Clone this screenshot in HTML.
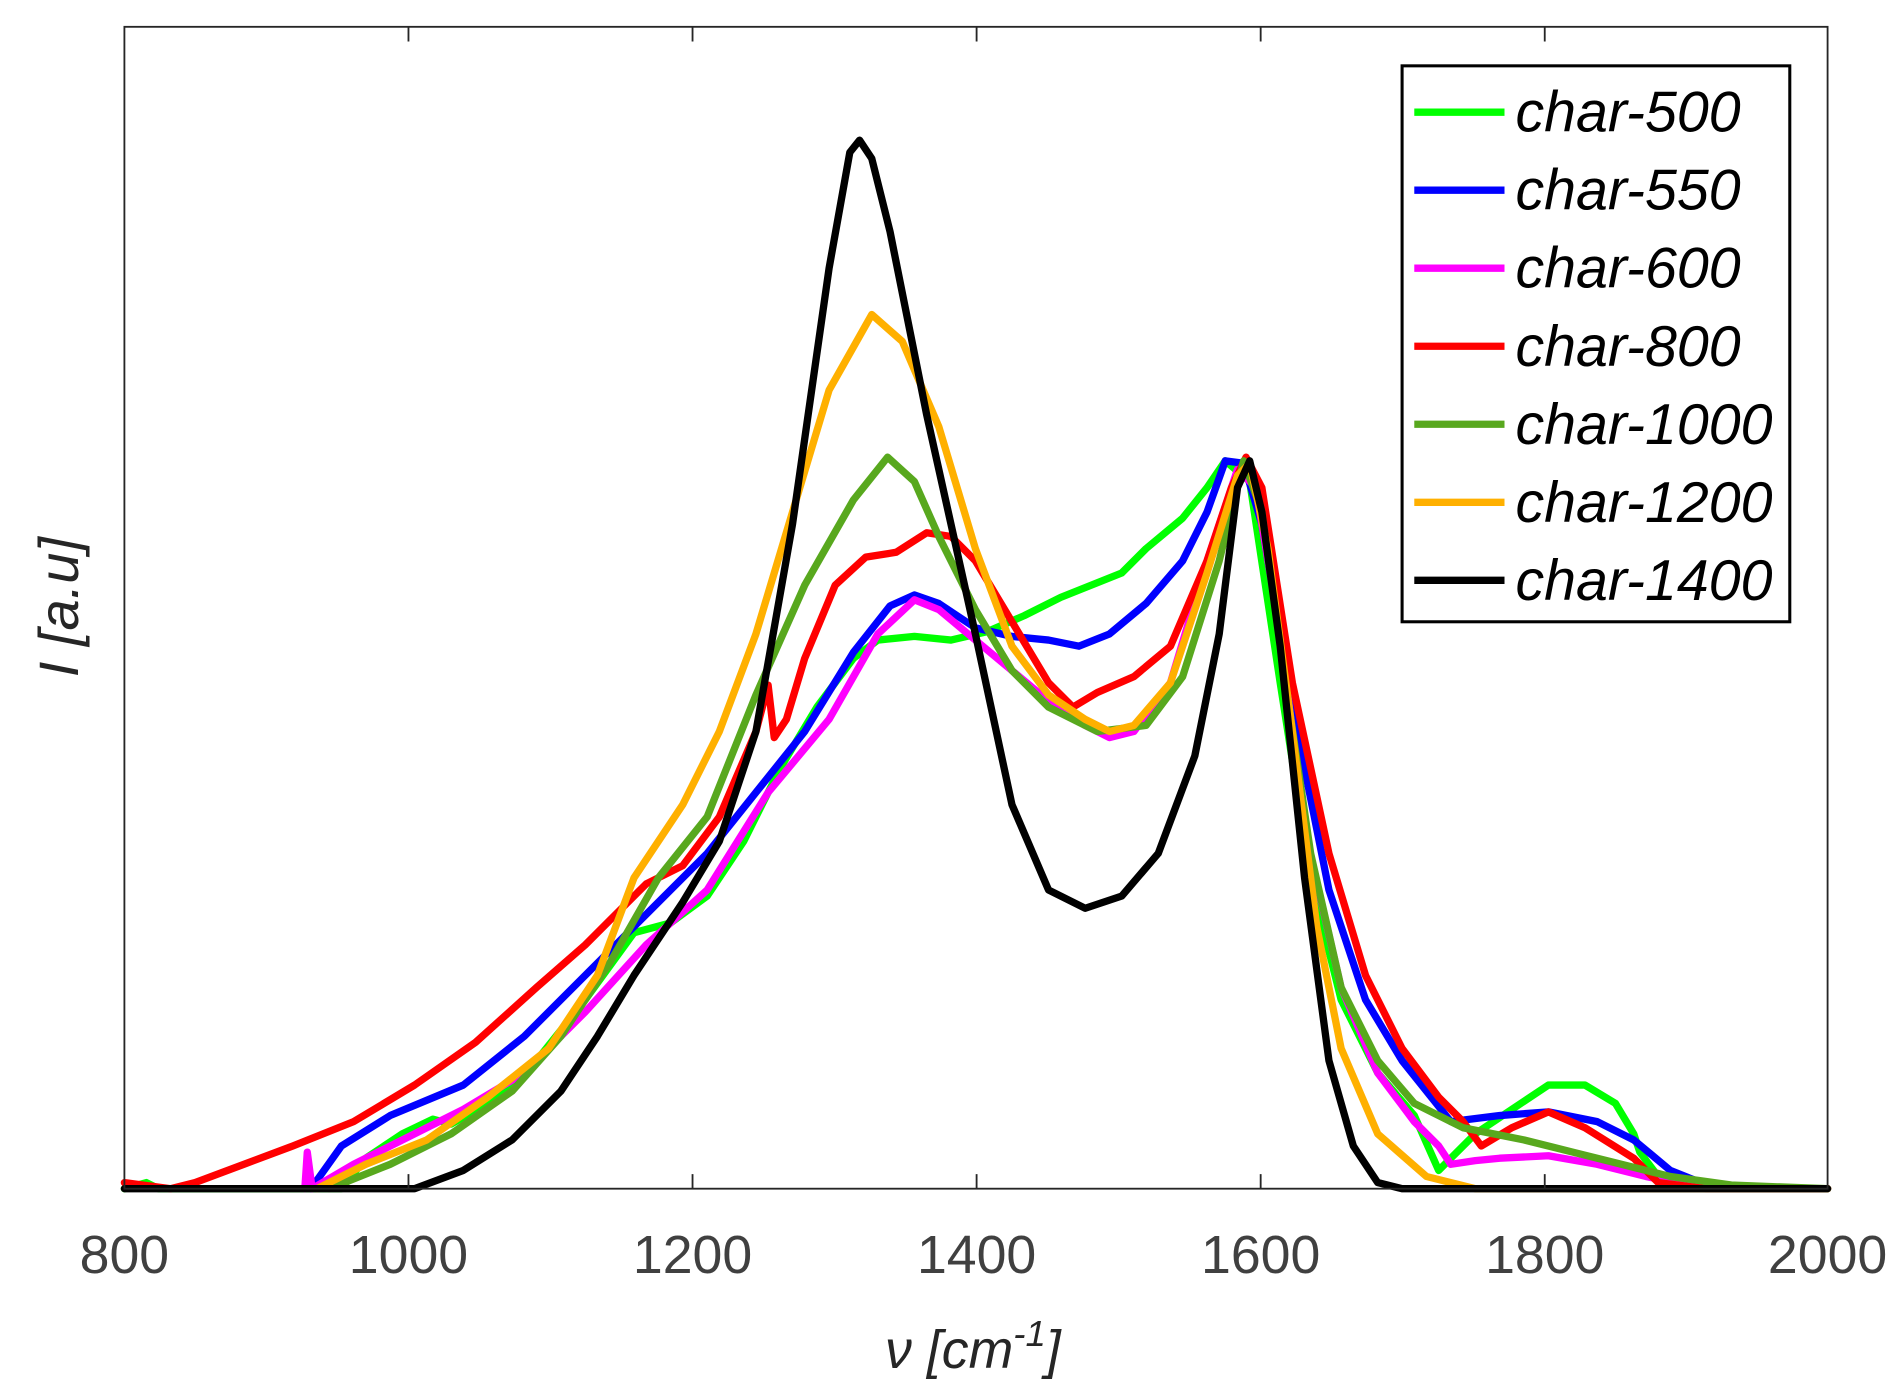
<!DOCTYPE html>
<html><head><meta charset="utf-8"><style>html,body{margin:0;padding:0;background:#fff}svg{display:block}</style></head>
<body>
<svg width="1902" height="1399" viewBox="0 0 1560 1147.5" xmlns="http://www.w3.org/2000/svg" font-family="Liberation Sans, sans-serif">
<rect x="0" y="0" width="1560" height="1147.5" fill="#fff"/>
<g fill="none" stroke-width="6" stroke-linejoin="round" stroke-linecap="round">
<polyline stroke="#00ff00" points="102,975 120,970 130,975 280,975 300,950 330,930 355,918 370,922 400,905 440,870 480,820 520,765 550,757 580,735 610,690 640,630 670,580 700,540 720,525 750,522 780,525 810,518 840,505 870,490 900,478 920,470 940,450 970,425 990,400 1005,378 1025,395 1050,560 1075,720 1100,820 1130,880 1160,915 1180,960 1190,950 1210,930 1240,910 1270,890 1300,890 1325,905 1340,930 1345,945 1360,965 1400,975 1499,975"/>
<polyline stroke="#0000ff" points="255,975 280,940 320,915 380,890 430,850 480,800 530,750 580,700 620,650 660,600 700,535 730,497 750,488 770,495 800,515 830,522 860,525 885,530 910,520 940,495 970,460 990,420 1005,378 1020,380 1035,430 1060,580 1090,730 1120,820 1150,870 1190,920 1230,915 1270,912 1310,920 1340,935 1370,960 1400,972 1440,975 1499,975"/>
<polyline stroke="#ff00ff" points="250,975 252,945 256,975 290,955 330,935 380,910 430,880 480,830 530,775 580,730 630,650 680,590 720,520 750,492 770,500 800,525 830,550 860,575 890,595 910,605 930,600 960,560 990,460 1015,385 1030,400 1050,520 1070,680 1100,810 1130,880 1160,920 1180,940 1190,955 1210,952 1230,950 1270,948 1310,955 1350,965 1400,975 1499,975"/>
<polyline stroke="#ff0000" points="102,970 140,975 160,970 200,955 240,940 290,920 340,890 390,855 440,810 480,775 530,725 560,710 590,670 620,600 630,562 635,605 645,590 660,540 685,480 710,457 735,453 760,437 780,440 800,460 830,510 860,560 880,580 900,568 930,555 960,530 990,460 1010,400 1022,375 1035,400 1060,560 1090,700 1120,800 1150,860 1180,900 1200,920 1215,940 1240,925 1270,912 1300,925 1340,950 1360,970 1400,975 1499,975"/>
<polyline stroke="#58a81e" points="270,975 320,955 370,930 420,895 460,850 500,790 540,720 580,670 620,570 660,480 700,410 728,375 750,395 770,440 800,500 830,550 860,580 900,600 940,595 970,555 1000,460 1020,378 1035,420 1050,530 1075,700 1100,810 1130,870 1160,905 1200,925 1250,935 1290,945 1330,955 1370,965 1420,972 1499,975"/>
<polyline stroke="#ffb000" points="260,975 300,955 350,935 400,900 450,860 490,800 520,720 560,660 590,600 620,520 650,420 680,320 715,258 740,280 770,350 800,450 830,530 860,570 890,590 910,600 930,595 960,560 990,470 1015,390 1025,380 1040,450 1060,600 1080,760 1100,860 1130,930 1170,965 1210,975 1499,975"/>
<polyline stroke="#000" points="102,975 340,975 380,960 420,935 460,895 490,850 520,800 560,740 590,690 620,600 650,430 680,220 697,125 705,115 715,130 730,190 760,340 800,520 830,660 860,730 890,745 920,735 950,700 980,620 1000,520 1015,400 1025,378 1035,420 1050,530 1070,720 1090,870 1110,940 1130,970 1150,975 1499,975"/>
</g>
<g stroke="#262626" stroke-width="1.5" fill="none">
<rect x="102" y="22" width="1397" height="953"/>
<path d="M335,975v-12M568,975v-12M801,975v-12M1034,975v-12M1267,975v-12M335,22v12M568,22v12M801,22v12M1034,22v12M1267,22v12"/>
</g>
<g fill="#404040" font-size="44" text-anchor="middle">
<text x="102" y="1044">800</text><text x="335" y="1044">1000</text><text x="568" y="1044">1200</text><text x="801" y="1044">1400</text><text x="1034" y="1044">1600</text><text x="1267" y="1044">1800</text><text x="1499" y="1044">2000</text>
</g>
<text x="798" y="1122" font-size="44" font-style="italic" text-anchor="middle" fill="#262626">ν  [cm<tspan font-size="30" dy="-18">-1</tspan><tspan dy="18">]</tspan></text>
<text transform="translate(64,498) rotate(-90)" font-size="46" font-style="italic" text-anchor="middle" fill="#262626">I [a.u]</text>
<rect x="1150" y="54" width="318" height="456" fill="#fff" stroke="#000" stroke-width="2.5"/>
<g stroke-width="6">
<line x1="1160" y1="92" x2="1234" y2="92" stroke="#00ff00"/>
<line x1="1160" y1="156" x2="1234" y2="156" stroke="#0000ff"/>
<line x1="1160" y1="220" x2="1234" y2="220" stroke="#ff00ff"/>
<line x1="1160" y1="284" x2="1234" y2="284" stroke="#ff0000"/>
<line x1="1160" y1="348" x2="1234" y2="348" stroke="#58a81e"/>
<line x1="1160" y1="412" x2="1234" y2="412" stroke="#ffb000"/>
<line x1="1160" y1="476" x2="1234" y2="476" stroke="#000"/>
</g>
<g font-size="47" font-style="italic" fill="#000">
<text x="1243" y="108">char-500</text><text x="1243" y="172">char-550</text><text x="1243" y="236">char-600</text><text x="1243" y="300">char-800</text><text x="1243" y="364">char-1000</text><text x="1243" y="428">char-1200</text><text x="1243" y="492">char-1400</text>
</g>
</svg>
</body></html>
